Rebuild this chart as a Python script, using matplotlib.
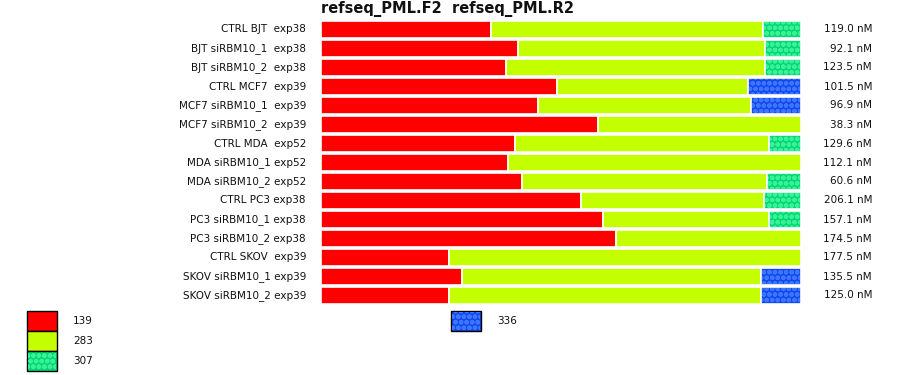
import matplotlib
matplotlib.use("Agg")
import matplotlib.pyplot as plt
import numpy as np
from matplotlib.patches import Rectangle

plt.rcParams['font.family'] = ['DejaVu Sans']
plt.rcParams['hatch.linewidth'] = 1.6

title = "refseq_PML.F2  refseq_PML.R2"
samples = ["CTRL BJT  exp38", "BJT siRBM10_1  exp38", "BJT siRBM10_2  exp38",
           "CTRL MCF7  exp39", "MCF7 siRBM10_1  exp39", "MCF7 siRBM10_2  exp39",
           "CTRL MDA  exp52", "MDA siRBM10_1 exp52", "MDA siRBM10_2 exp52",
           "CTRL PC3 exp38", "PC3 siRBM10_1 exp38", "PC3 siRBM10_2 exp38",
           "CTRL SKOV  exp39", "SKOV siRBM10_1 exp39", "SKOV siRBM10_2 exp39"]
concentrations = ["119.0 nM", "92.1 nM", "123.5 nM", "101.5 nM", "96.9 nM", "38.3 nM",
                  "129.6 nM", "112.1 nM", "60.6 nM", "206.1 nM", "157.1 nM", "174.5 nM",
                  "177.5 nM", "135.5 nM", "125.0 nM"]
# fractions (%) of each product size per sample
size_labels = ["139", "283", "307", "336"]
frac_139 = [35.4, 41.0, 38.5, 49.2, 45.2, 57.7, 40.4, 39.0, 41.9, 54.2, 58.8, 61.5, 26.7, 29.4, 26.7]
frac_283 = [56.7, 51.5, 54.0, 39.8, 44.4, 42.3, 52.9, 61.0, 51.0, 38.1, 34.6, 38.5, 73.3, 62.3, 65.0]
frac_307 = [7.9, 7.5, 7.5, 0, 0, 0, 6.7, 0, 7.1, 7.7, 6.6, 0, 0, 0, 0]
frac_336 = [0, 0, 0, 11.0, 10.4, 0, 0, 0, 0, 0, 0, 0, 0, 8.3, 8.3]

colors = ["#ff0000", "#c4ff00", "#00d878", "#1448ee"]
hatch_colors = [None, None, "#3cf096", "#3a76ff"]
hatch_style = "ooo"

W, H = 900, 375
fig = plt.figure(figsize=(9, 3.75), dpi=100)
fig.patch.set_facecolor("white")

n = len(samples)
pitch = 19
top = 20
ax = fig.add_axes([321 / W, (H - (top + n * pitch)) / H, 480 / W, n * pitch / H])
ax.set_xlim(0, 100)
ax.set_ylim(n - 0.5, -0.5)
ax.axis("off")

y = np.arange(n)
series = [frac_139, frac_283, frac_307, frac_336]
left = np.zeros(n)
for k, vals in enumerate(series):
    vals = np.array(vals, dtype=float)
    mask = vals > 0
    ax.barh(y[mask], vals[mask], left=left[mask], height=17 / 19,
            color=colors[k], edgecolor="white", linewidth=1.2)
    if hatch_colors[k]:
        ax.barh(y[mask], vals[mask] - 0.4, left=left[mask] + 0.2, height=15.5 / 19,
                color="none", edgecolor=hatch_colors[k], linewidth=0, hatch=hatch_style)
    left += vals

for i in range(n):
    fig.text(306 / W, 1 - (29.5 + i * pitch) / H, samples[i], ha="right", va="center",
             fontsize=7.5, color="#111111")
    fig.text(872 / W, 1 - (29.5 + i * pitch) / H, concentrations[i], ha="right", va="center",
             fontsize=7.5, color="#111111")

fig.text(321 / W, 1 - 9 / H, title, ha="left", va="center", fontsize=10.5,
         fontweight="bold", color="#111111")

# legend
leg_pos = [(27, 311), (27, 331), (27, 351), (451, 311)]
for k, lab in enumerate(size_labels):
    x0, y0 = leg_pos[k]
    r = Rectangle((x0 / W, 1 - (y0 + 20) / H), 30 / W, 20 / H, transform=fig.transFigure,
                  facecolor=colors[k], edgecolor="black", linewidth=1.0)
    fig.patches.append(r)
    if hatch_colors[k]:
        r2 = Rectangle(((x0 + 1) / W, 1 - (y0 + 19) / H), 28 / W, 18 / H,
                       transform=fig.transFigure, facecolor="none",
                       edgecolor=hatch_colors[k], linewidth=0, hatch=hatch_style)
        fig.patches.append(r2)
    fig.text((x0 + 46) / W, 1 - (y0 + 10) / H, lab, ha="left", va="center",
             fontsize=7.5, color="#111111")

fig.savefig("out.png", dpi=100)
